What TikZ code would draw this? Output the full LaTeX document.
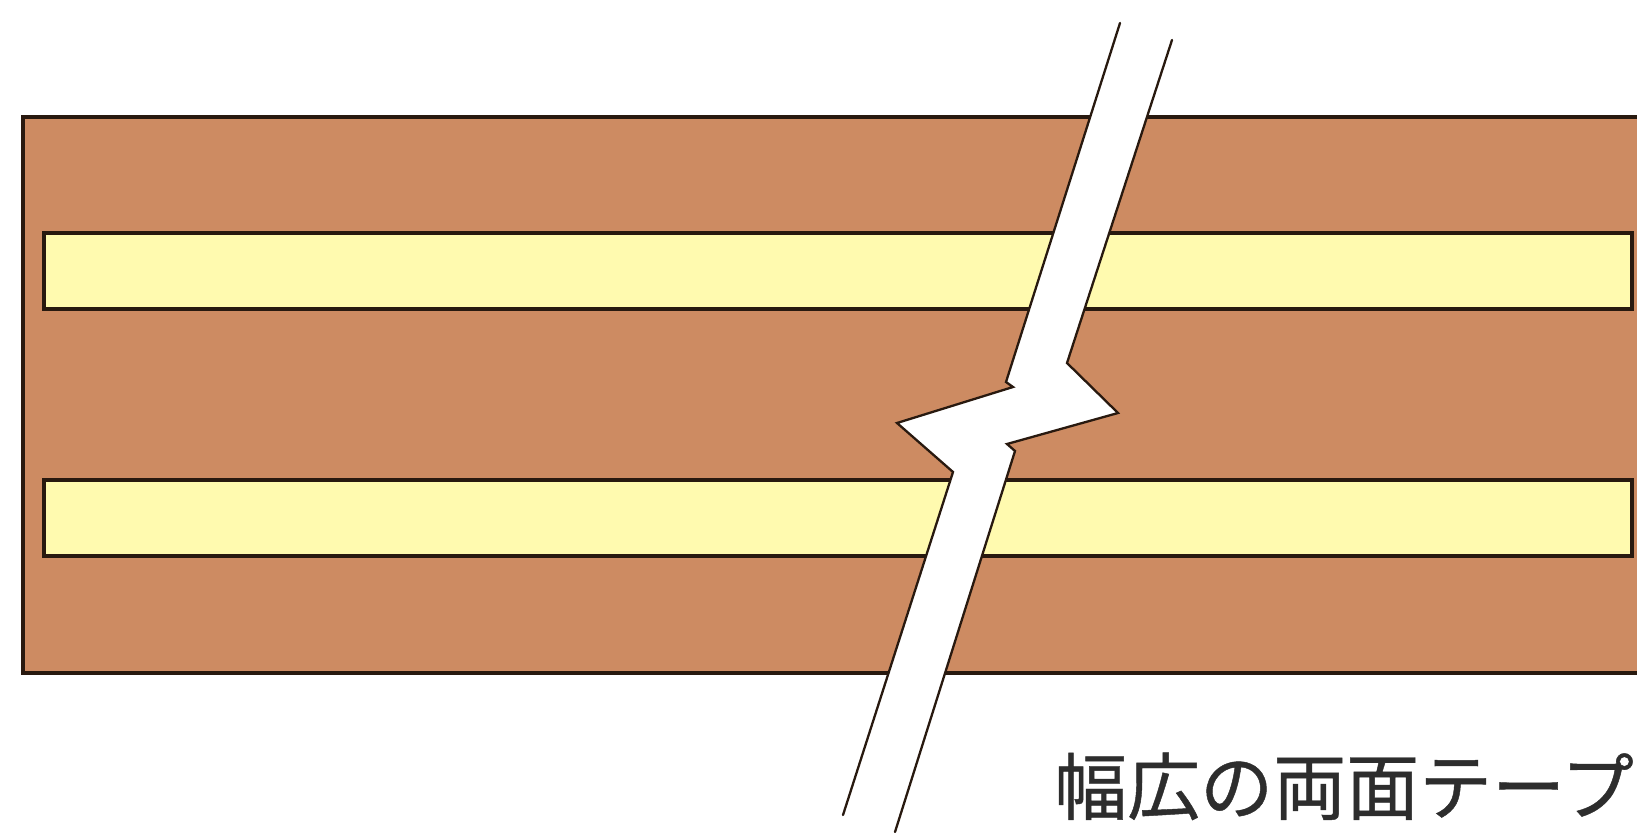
\documentclass[tikz,border=0pt]{standalone}
\usepackage{fontspec}
\newfontfamily\cjk[FakeBold=0.6]{Noto Sans CJK JP}
\definecolor{board}{RGB}{205,139,98}
\definecolor{tape}{RGB}{255,250,175}
\definecolor{edge}{RGB}{40,25,15}
\definecolor{ink}{RGB}{45,45,45}
\tikzset{
  boardbox/.style={fill=board, draw=edge, line width=3.6pt},
  tapebox/.style={fill=tape, draw=edge, line width=3.6pt},
  breakline/.style={draw=edge, line width=2.3pt, line join=miter, line cap=round},
  lbl/.style={font=\cjk\fontsize{73}{73}\selectfont, text=ink, inner sep=0pt}
}
\begin{document}
\begin{tikzpicture}[x=1pt,y=-1pt]
\useasboundingbox (0,0) rectangle (1637,832);
\fill[white] (0,0) rectangle (1637,832);
% board
\draw[boardbox] (1660,117) -- (23,117) -- (23,673) -- (1660,673);
% tapes
\draw[tapebox] (44,233) rectangle (1632,309);
\draw[tapebox] (44,480) rectangle (1632,556);
% break coordinates
\coordinate (L0) at (1120,23);
\coordinate (L1) at (1006,382);
\coordinate (L2) at (1013,387);
\coordinate (L3) at (897,423);
\coordinate (L4) at (953,472);
\coordinate (L5) at (843,815);
\coordinate (R0) at (1172,40);
\coordinate (R1) at (1067,363);
\coordinate (R2) at (1118,413);
\coordinate (R3) at (1007,444);
\coordinate (R4) at (1015,451);
\coordinate (R5) at (895,832);
\fill[white] (L0) -- (L1) -- (L2) -- (L3) -- (L4) -- (L5) -- (R5) -- (R4) -- (R3) -- (R2) -- (R1) -- (R0) -- cycle;
\draw[breakline] (L0) -- (L1) -- (L2) -- (L3) -- (L4) -- (L5);
\draw[breakline] (R0) -- (R1) -- (R2) -- (R3) -- (R4) -- (R5);
% label
\node[lbl, anchor=base east] (label) at (1634,814) {幅広の両面テープ};
\end{tikzpicture}
\end{document}
